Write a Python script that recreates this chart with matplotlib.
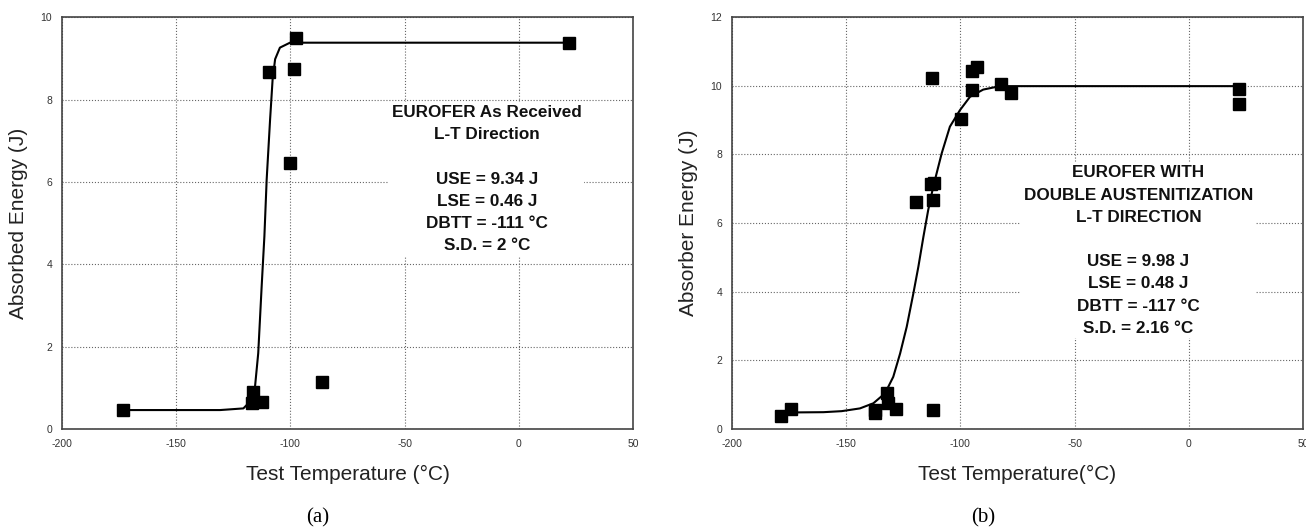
import numpy as np
import matplotlib.pyplot as plt

plt.rcParams['font.family'] = ['Liberation Sans', 'DejaVu Sans']
plt.rcParams['axes.unicode_minus'] = False

# ---- Panel (a): EUROFER as received ----
temp_a = [-173.3, -116.5, -116.7, -112.6, -86.3, -109.2, -98.3, -100.2, -97.5, 22.0]
energy_a = [0.46, 0.91, 0.62, 0.65, 1.13, 8.67, 8.75, 6.47, 9.50, 9.38]
# fitted curve
fit_temp_a = [-173.3, -130.8, -120.6, -116.9, -115.5, -114.1, -112.6, -111.4,
              -110.4, -108.9, -107.8, -106.7, -104.6, -100.2, 22.0]
fit_energy_a = [0.46, 0.46, 0.50, 0.71, 1.03, 1.84, 3.46, 4.68,
                6.06, 7.52, 8.49, 8.98, 9.26, 9.38, 9.38]
text_a = ("EUROFER As Received\nL-T Direction\n\n"
          "USE = 9.34 J\nLSE = 0.46 J\nDBTT = -111 °C\nS.D. = 2 °C")

# ---- Panel (b): EUROFER with double austenitization ----
temp_b = [-112.6, -94.8, -92.7, -94.8, -82.2, -77.8, -99.7, -119.4, -113.0,
          -111.6, -112.1, 22.0, 22.0, -178.5, -174.3, -137.4, -137.2, -132.3,
          -131.8, -128.1, -112.1]
energy_b = [10.23, 10.44, 10.55, 9.87, 10.04, 9.78, 9.04, 6.62, 7.15,
            7.17, 6.67, 9.92, 9.46, 0.38, 0.57, 0.48, 0.55, 1.04,
            0.75, 0.59, 0.56]
fit_temp_b = [-178.5, -160.0, -152.0, -144.0, -138.1, -133.0, -129.4, -126.4,
              -123.5, -120.6, -118.4, -116.2, -114.1, -111.9, -108.2, -104.6,
              -100.2, -95.8, -90.0, -82.7, 20.0]
fit_energy_b = [0.48, 0.49, 0.52, 0.60, 0.75, 1.04, 1.52, 2.20,
                2.98, 3.95, 4.73, 5.60, 6.38, 7.06, 8.03, 8.81,
                9.29, 9.68, 9.89, 9.99, 9.99]
text_b = ("EUROFER WITH\nDOUBLE AUSTENITIZATION\nL-T DIRECTION\n\n"
          "USE = 9.98 J\nLSE = 0.48 J\nDBTT = -117 °C\nS.D. = 2.16 °C")

fig = plt.figure(figsize=(13.06, 5.28), dpi=100)
ax_a = fig.add_axes([0.0475, 0.1875, 0.4372, 0.780])
ax_b = fig.add_axes([0.5605, 0.1875, 0.4372, 0.780])


def style_axes(ax, ymax, ylabel, xlabel):
    ax.set_xlim(-200, 50)
    ax.set_ylim(0, ymax)
    ax.set_xticks(np.arange(-200, 51, 50))
    ax.set_yticks(np.arange(0, ymax + 1, 2))
    ax.tick_params(length=0, labelsize=7.5, labelcolor='#333333', pad=7)
    ax.grid(True, linestyle=':', color='#666666', linewidth=0.8)
    ax.set_axisbelow(True)
    for s in ax.spines.values():
        s.set_color('#444444')
        s.set_linewidth(1.2)
    ax.set_ylabel(ylabel, fontsize=15, color='#222222', labelpad=9)
    ax.set_xlabel(xlabel, fontsize=15, color='#222222', labelpad=12)


style_axes(ax_a, 10, 'Absorbed Energy (J)', 'Test Temperature (°C)')
ax_a.plot(fit_temp_a, fit_energy_a, color='black', linewidth=1.5, zorder=3)
ax_a.plot(temp_a, energy_a, 's', color='black', markersize=8.5, zorder=4)
ax_a.text(-14, 6.07, text_a, ha='center', va='center', fontsize=12.3,
          fontweight='bold', color='#111111', linespacing=1.6, zorder=5,
          bbox=dict(facecolor='white', edgecolor='none', pad=2))

style_axes(ax_b, 12, 'Absorber Energy (J)', 'Test Temperature(°C)')
ax_b.plot(fit_temp_b, fit_energy_b, color='black', linewidth=1.5, zorder=3)
ax_b.plot(temp_b, energy_b, 's', color='black', markersize=8.5, zorder=4)
ax_b.text(-22, 5.2, text_b, ha='center', va='center', fontsize=12.3,
          fontweight='bold', color='#111111', linespacing=1.6, zorder=5,
          bbox=dict(facecolor='white', edgecolor='none', pad=2))

fig.text(0.243, 0.02, '(a)', ha='center', va='center', fontsize=15,
         family=['Liberation Serif', 'DejaVu Serif'])
fig.text(0.753, 0.02, '(b)', ha='center', va='center', fontsize=15,
         family=['Liberation Serif', 'DejaVu Serif'])

fig.savefig('out.png', dpi=100)
